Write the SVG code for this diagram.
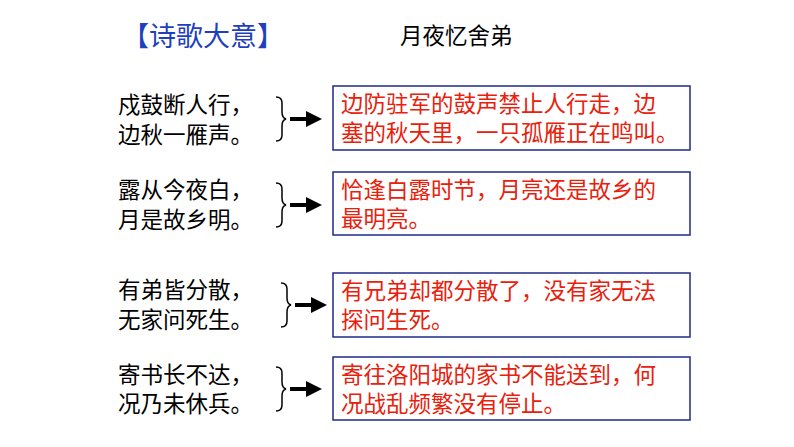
<svg xmlns="http://www.w3.org/2000/svg" width="794" height="447" viewBox="0 0 794 447">
<defs><style>
text{font-family:"Liberation Sans","Noto Sans CJK SC",sans-serif;font-size:22.5px}
.l{fill:#000}.r{fill:#e8200c}
.box{fill:#fff;stroke:#1f2a8c;stroke-width:1.5}
.br{fill:none;stroke:#000;stroke-width:1.5}
</style>
<marker id="ah" markerWidth="4" markerHeight="4" refX="2" refY="2" orient="auto" markerUnits="strokeWidth"><path d="M0,0L4,2L0,4Z" fill="#000"/></marker>
</defs>
<rect width="794" height="447" fill="#fff"/>
<text x="122" y="46" style="font-size:27px;fill:#1f3fbf">【诗歌大意】</text>
<text x="400" y="44" class="l">月夜忆舍弟</text>
<g id="n1"><text x="118" y="113" class="l">戍鼓断人行，</text><text x="118" y="143" class="l">边秋一雁声。</text>
<rect class="box" x="333" y="86" width="357" height="64"/><text x="341" y="112" class="r">边防驻军的鼓声禁止人行走，边</text><text x="341" y="141" class="r">塞的秋天里，一只孤雁正在鸣叫。</text></g>
<g id="n2"><text x="118" y="198" class="l">露从今夜白，</text><text x="118" y="228" class="l">月是故乡明。</text>
<rect class="box" x="333" y="172" width="357" height="63"/><text x="341" y="198" class="r">恰逢白露时节，月亮还是故乡的</text><text x="341" y="227" class="r">最明亮。</text></g>
<g id="n3"><text x="118" y="298" class="l">有弟皆分散，</text><text x="118" y="328" class="l">无家问死生。</text>
<rect class="box" x="333" y="273" width="357" height="64"/><text x="341" y="299" class="r">有兄弟却都分散了，没有家无法</text><text x="341" y="328" class="r">探问生死。</text></g>
<g id="n4"><text x="118" y="383" class="l">寄书长不达，</text><text x="118" y="412" class="l">况乃未休兵。</text>
<rect class="box" x="333" y="357" width="357" height="63"/><text x="341" y="383" class="r">寄往洛阳城的家书不能送到，何</text><text x="341" y="412" class="r">况战乱频繁没有停止。</text></g>
<g id="connectors">
<path class="br" d="M276,97q6,0 6,6v9q0,6 4,7q-4,1 -4,7v9q0,6 -6,6"/>
<path class="br" d="M276,183q6,0 6,6v9q0,6 4,7q-4,1 -4,7v9q0,6 -6,6"/>
<path class="br" d="M281,283q6,0 6,6v9q0,6 4,7q-4,1 -4,7v9q0,6 -6,6"/>
<path class="br" d="M276,367q6,0 6,6v9q0,6 4,7q-4,1 -4,7v9q0,6 -6,6"/>
<g stroke="#000" stroke-width="4" marker-end="url(#ah)">
<line x1="290" y1="119" x2="314" y2="119"/>
<line x1="290" y1="205" x2="314" y2="205"/>
<line x1="295" y1="305" x2="319" y2="305"/>
<line x1="290" y1="389" x2="314" y2="389"/>
</g></g>
</svg>
